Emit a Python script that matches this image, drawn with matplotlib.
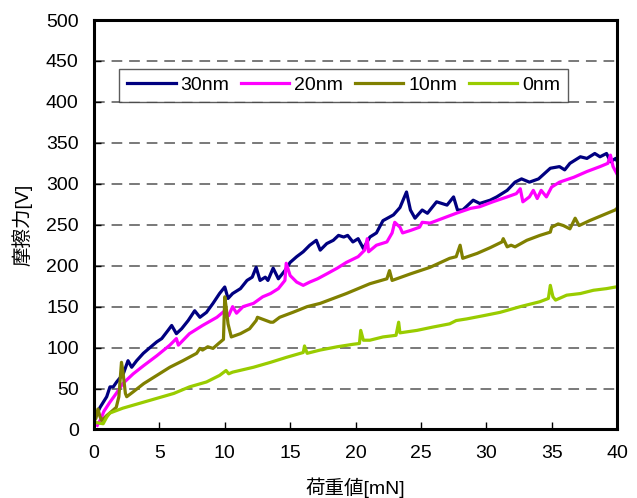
import matplotlib
matplotlib.use("Agg")
import matplotlib.pyplot as plt

plt.rcParams['font.family'] = ['Liberation Sans', 'Noto Sans CJK JP', 'DejaVu Sans']

x_30 = [0, 0.1, 0.46, 0.97, 1.22, 1.47, 1.73, 2.24, 2.6, 2.88, 3.26, 3.77, 4.28, 4.8, 5.18, 5.66,
        5.94, 6.3, 6.7, 7.2, 7.7, 8.1, 8.6, 9.1, 9.6, 10.0, 10.25, 10.6, 11.2, 11.7, 12.1, 12.4,
        12.7, 13.1, 13.3, 13.7, 14.1, 14.6, 15.0, 15.5, 16.0, 16.5, 17.0, 17.3, 17.8, 18.3, 18.7,
        19.1, 19.4, 19.8, 20.2, 20.6, 21.1, 21.6, 22.1, 22.9, 23.4, 23.9, 24.2, 24.55, 25.1, 25.5,
        26.2, 27.0, 27.5, 27.8, 28.2, 29.0, 29.5, 30.3, 30.8, 31.6, 32.2, 32.7, 33.3, 34.0, 34.9,
        35.6, 36.0, 36.4, 37.2, 37.7, 38.3, 38.7, 39.2, 39.5, 39.9, 40.0]
y_30 = [12, 15, 27, 40, 52, 52, 58, 68, 84, 76, 84, 93, 100, 107, 111, 121,
        127, 117, 123, 133, 145, 137, 143, 154, 166, 174, 160, 166, 172, 182, 186, 198,
        182, 186, 182, 197, 184, 194, 204, 211, 217, 225, 231, 219, 227, 231, 237,
        235, 237, 229, 233, 221, 235, 240, 255, 262, 271, 290, 268, 258, 268, 264,
        278, 274, 284, 268, 268, 280, 276, 280, 284, 292, 302, 306, 302, 306, 319,
        321, 317, 325, 333, 331, 337, 333, 337, 327, 331, 328]

x_20 = [0.25, 0.5, 0.75, 1.2, 1.7, 2.2, 3.0, 3.8, 4.8, 5.8, 6.3, 6.45, 7.3, 8.3, 9.4, 10.0,
        10.3, 10.6, 10.9, 11.4, 12.2, 12.9, 13.5, 14.1, 14.6, 14.7, 15.0, 15.5, 16.0, 16.5, 17.1,
        17.8, 18.6, 19.3, 20.2, 20.7, 20.9, 21.0, 21.6, 22.4, 22.8, 23.0, 23.4, 23.6, 24.2, 24.9,
        25.1, 25.7, 26.7, 27.7, 28.8, 29.5, 30.5, 31.6, 32.3, 32.6, 32.8, 33.3, 33.6, 33.9, 34.2,
        34.6, 35.0, 35.6, 36.7, 37.7, 38.7, 39.3, 39.5, 39.7, 39.9, 40.0]
y_20 = [5, 12, 22, 33, 44, 56, 68, 78, 90, 103, 111, 103, 117, 127, 137, 145,
        139, 150, 142, 150, 154, 162, 166, 172, 182, 203, 188, 180, 176, 180, 184,
        190, 197, 204, 211, 219, 233, 217, 225, 229, 240, 253, 247, 240, 243, 247,
        253, 252, 258, 264, 270, 272, 278, 284, 288, 294, 278, 284, 292, 282, 292,
        284, 296, 302, 308, 315, 321, 325, 335, 321, 315, 312]

x_10 = [0, 0.15, 0.3, 0.45, 0.6, 0.97, 1.2, 1.7, 1.9, 2.1, 2.2, 2.4, 2.5, 3.0, 3.8, 4.8, 5.8,
        6.8, 7.85, 8.1, 8.3, 8.7, 9.1, 9.6, 9.9, 10.0, 10.1, 10.25, 10.5, 11.2, 11.9, 12.4, 12.5,
        13.5, 13.7, 14.2, 15.2, 16.3, 17.3, 18.3, 19.3, 20.2, 21.1, 22.4, 22.6, 22.8, 24.2, 25.7,
        27.2, 27.7, 28.0, 28.2, 29.3, 30.3, 31.2, 31.3, 31.6, 31.9, 32.2, 33.1, 34.1, 34.9, 35.0,
        35.5, 35.9, 36.4, 36.8, 37.1, 37.9, 38.95, 39.85, 40.0]
y_10 = [10, 14, 25, 16, 11, 17, 20, 27, 40, 82, 72, 44, 40, 46, 56, 66, 76,
        84, 93, 99, 97, 101, 99, 106, 110, 162, 150, 129, 113, 117, 123, 133, 137,
        131, 131, 137, 143, 150, 154, 160, 166, 172, 178, 184, 194, 182, 190, 198,
        209, 211, 225, 209, 215, 222, 229, 233, 223, 225, 223, 231, 237, 241, 247,
        251, 249, 245, 258, 249, 255, 262, 268, 270]

x_0 = [0, 0.3, 0.7, 0.97, 1.2, 2.2, 3.5, 4.8, 6.1, 7.3, 8.6, 9.6, 10.1, 10.3, 10.6, 12.2,
       13.5, 14.7, 16.0, 16.1, 16.3, 17.3, 18.6, 19.8, 20.3, 20.4, 20.6, 21.1, 22.1, 23.1, 23.3,
       23.4, 24.7, 25.9, 27.2, 27.7, 28.5, 29.8, 31.05, 32.6, 34.1, 34.75, 34.9, 35.1, 35.3,
       36.15, 37.2, 38.2, 39.2, 39.9, 40.0]
y_0 = [9, 8, 7, 15, 20, 26, 32, 38, 44, 52, 58, 66, 72, 68, 70, 76,
       82, 88, 94, 102, 93, 97, 101, 104, 105, 121, 109, 109, 113, 115, 131,
       118, 121, 125, 129, 133, 135, 139, 143, 150, 156, 160, 176, 162, 158,
       164, 166, 170, 172, 174, 174]

labels = ['30nm', '20nm', '10nm', '0nm']
colors = ['#000080', '#FF00FF', '#808000', '#99CC00']

fig = plt.figure(figsize=(6.37, 4.98), dpi=100)
ax = fig.add_axes([0.1476, 0.1376, 0.8210, 0.8222])

for xs, ys, lab, col in zip([x_30, x_20, x_10, x_0], [y_30, y_20, y_10, y_0], labels, colors):
    ax.plot(xs, ys, color=col, lw=2.3, label=lab, solid_joinstyle='round')

ax.set_xlim(0, 40)
ax.set_ylim(0, 500)
ax.set_xticks(range(0, 41, 5))
ax.set_yticks(range(0, 501, 50))
for yv in range(50, 500, 50):
    ax.axhline(yv, color='#555555', lw=1.1, dashes=(7, 4.5), zorder=0)

for s in ax.spines.values():
    s.set_linewidth(2.2)
ax.tick_params(axis='x', direction='in', length=5, width=1, pad=11, labelsize=14)
ax.tick_params(axis='y', direction='in', length=5, width=1, pad=11, labelsize=14)

ax.set_xlabel('荷重値[mN]', fontsize=14, labelpad=11)
ax.set_ylabel('摩擦力[V]', fontsize=14, labelpad=10)

leg = ax.legend(loc='lower left', bbox_to_anchor=(0.048, 0.80, 0.858, 0.0925), mode='expand',
                ncol=4, fontsize=14, frameon=True, fancybox=False, handlelength=2.5,
                handletextpad=0.25, borderaxespad=0, columnspacing=0.6)
leg.get_frame().set_edgecolor('#333333')
leg.get_frame().set_linewidth(1.0)
for h in leg.get_lines():
    h.set_linewidth(2.3)

fig.savefig('out.png', dpi=100)
